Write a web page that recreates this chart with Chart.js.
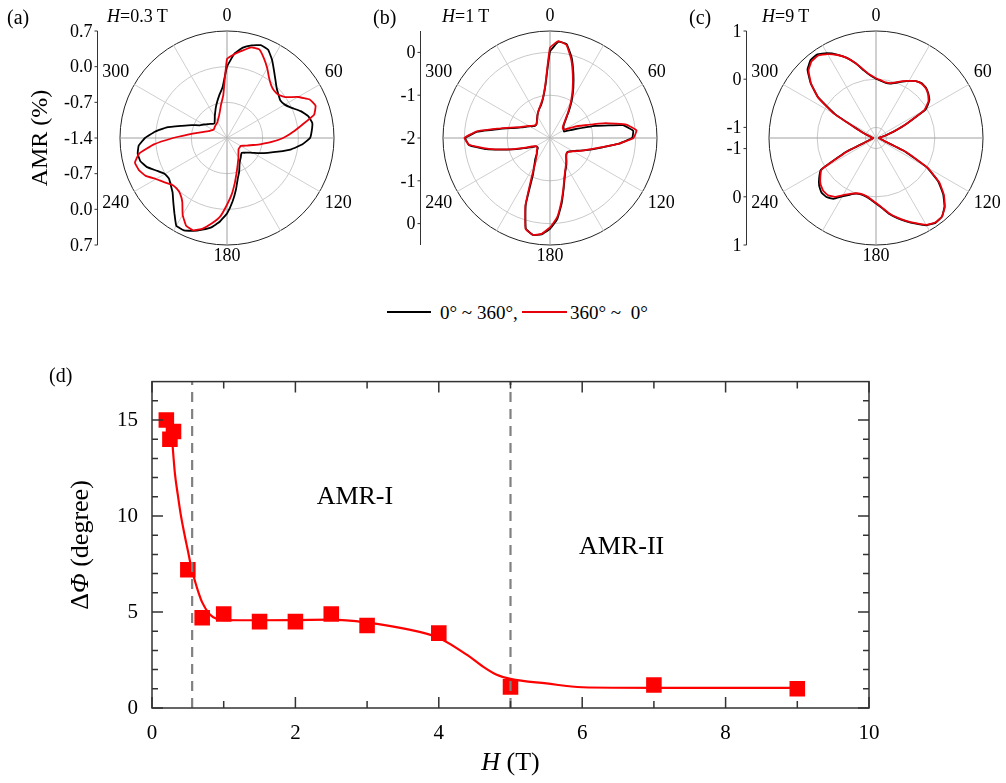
<!DOCTYPE html>
<html>
<head>
<meta charset="utf-8">
<script src="https://cdn.jsdelivr.net/npm/chart.js@4.4.1/dist/chart.umd.min.js"></script>
<style>
  html, body { margin: 0; padding: 0; background: #fff; }
  #wrap { position: relative; width: 1006px; height: 783px; overflow: hidden;
          font-family: "Liberation Serif", "Times New Roman", serif; color: #000; }
  canvas { position: absolute; }
  .lbl { position: absolute; white-space: nowrap; line-height: 1; }
  .swatch { position: absolute; height: 2px; }
</style>
</head>
<body>
<div id="wrap">
  <canvas id="polarA" width="375" height="280" style="left:0;top:0;width:375px;height:280px"></canvas>
  <canvas id="polarB" width="375" height="280" style="left:323px;top:0;width:375px;height:280px"></canvas>
  <canvas id="polarC" width="375" height="280" style="left:649px;top:0;width:375px;height:280px"></canvas>
  <canvas id="fieldChart" width="1006" height="428" style="left:0;top:355px;width:1006px;height:428px"></canvas>

  <div class="lbl" style="left:7px;top:7px;font-size:20px">(a)</div>
  <div class="lbl" style="left:373px;top:7px;font-size:20px">(b)</div>
  <div class="lbl" style="left:689px;top:7px;font-size:20px">(c)</div>
  <div class="lbl" style="left:107px;top:7px;font-size:18px"><i>H</i>=0.3 T</div>
  <div class="lbl" style="left:442px;top:7px;font-size:18px"><i>H</i>=1 T</div>
  <div class="lbl" style="left:762px;top:7px;font-size:18px"><i>H</i>=9 T</div>

  <div class="swatch" style="left:387px;top:311px;width:44px;background:#000"></div>
  <div class="lbl" style="left:440px;top:303px;font-size:19px">0° ~ 360°,</div>
  <div class="swatch" style="left:522px;top:311px;width:45px;background:#e8000b"></div>
  <div class="lbl" style="left:570px;top:303px;font-size:19px">360° ~&nbsp; 0°</div>

  <div class="lbl" style="left:49px;top:365px;font-size:20px">(d)</div>
</div>
<script>
const SERIF = '"Liberation Serif", "Times New Roman", serif';

// polar panels: field angle (deg) and AMR read every 5 degrees
const angles = [0, 5, 10, 15, 20, 25, 30, 35, 40, 45, 50, 55, 60, 65, 70, 75, 80, 85,
  90, 95, 100, 105, 110, 115, 120, 125, 130, 135, 140, 145, 150, 155, 160, 165, 170, 175,
  180, 185, 190, 195, 200, 205, 210, 215, 220, 225, 230, 235, 240, 245, 250, 255, 260, 265,
  270, 275, 280, 285, 290, 295, 300, 305, 310, 315, 320, 325, 330, 335, 340, 345, 350, 355];
const angleMarks = [0, 60, 120, 180, 240, 300];

// (a) H = 0.3 T
const amrA_up = [0.00, 0.26, 0.40, 0.48, 0.54, 0.51, 0.37, 0.21, 0.08, -0.02, -0.08, -0.12,
  -0.09, 0.00, 0.14, 0.25, 0.30, 0.27, 0.23, 0.08, -0.12, -0.36, -0.55, -0.70,
  -0.82, -0.90, -0.95, -0.99, -0.97, -0.93, -0.89, -0.82, -0.70, -0.58, -0.38, -0.15,
  0.08, 0.25, 0.38, 0.46, 0.54, 0.60, 0.59, 0.40, 0.24, 0.11, 0.04, -0.01,
  0.01, 0.12, 0.27, 0.36, 0.38, 0.34, 0.21, 0.02, -0.20, -0.48, -0.66, -0.81,
  -0.87, -0.93, -0.97, -1.01, -1.02, -0.98, -0.92, -0.85, -0.76, -0.66, -0.54, -0.40];
const amrA_down = [0.15, 0.25, 0.34, 0.44, 0.45, 0.32, 0.18, 0.04, -0.05, -0.09, -0.08, 0.00,
  0.21, 0.39, 0.45, 0.37, 0.10, -0.11, -0.30, -0.52, -0.72, -0.87, -0.97, -1.04,
  -1.09, -1.09, -1.09, -1.08, -1.05, -1.01, -0.95, -0.89, -0.80, -0.68, -0.51, -0.30,
  -0.09, 0.15, 0.30, 0.44, 0.53, 0.50, 0.34, 0.13, 0.03, 0.00, 0.02, 0.11,
  0.21, 0.36, 0.44, 0.47, 0.35, 0.04, -0.34, -0.63, -0.81, -0.93, -1.01, -1.05,
  -1.08, -1.09, -1.08, -1.07, -1.06, -1.05, -1.03, -0.99, -0.94, -0.86, -0.73, -0.56];

// (b) H = 1 T
const amrB_up = [0.02, 0.26, 0.23, -0.05, -0.40, -0.71, -0.98, -1.23, -1.42, -1.53, -1.59, -1.61,
  -1.63, -1.64, -1.42, -0.91, -0.27, -0.05, -0.08, -0.40, -0.75, -0.98, -1.16, -1.30,
  -1.39, -1.45, -1.48, -1.46, -1.41, -1.33, -1.24, -1.15, -1.00, -0.77, -0.44, -0.09,
  0.12, 0.26, 0.30, 0.19, -0.34, -1.06, -1.27, -1.40, -1.52, -1.57, -1.63, -1.64,
  -1.61, -1.48, -1.27, -0.95, -0.49, -0.10, -0.02, -0.30, -0.79, -1.10, -1.28, -1.38,
  -1.45, -1.52, -1.55, -1.55, -1.52, -1.47, -1.41, -1.34, -1.27, -1.20, -1.06, -0.77];
const amrB_down = [0.11, 0.27, 0.21, -0.09, -0.44, -0.75, -1.02, -1.26, -1.44, -1.55, -1.61, -1.63,
  -1.61, -1.38, -1.13, -0.66, -0.19, 0.03, -0.05, -0.40, -0.77, -1.00, -1.16, -1.28,
  -1.38, -1.44, -1.47, -1.46, -1.41, -1.34, -1.26, -1.16, -1.02, -0.79, -0.48, -0.13,
  0.09, 0.25, 0.30, 0.20, -0.32, -0.98, -1.30, -1.44, -1.52, -1.56, -1.61, -1.63,
  -1.62, -1.53, -1.31, -0.97, -0.55, -0.11, 0.00, -0.27, -0.75, -1.06, -1.26, -1.36,
  -1.44, -1.50, -1.54, -1.55, -1.52, -1.48, -1.41, -1.34, -1.27, -1.18, -1.05, -0.75];

// (c) H = 9 T
const amrC_up = [0.01, -0.03, -0.06, -0.05, 0.00, 0.07, 0.15, 0.22, 0.26, 0.25, 0.20, 0.13,
  -0.03, -0.51, -0.82, -1.01, -1.12, -1.15, -1.16, -1.15, -1.13, -1.10, -1.04, -0.55,
  0.00, 0.36, 0.60, 0.79, 0.91, 0.93, 0.87, 0.74, 0.62, 0.50, 0.38, 0.24,
  0.14, 0.06, 0.01, -0.01, 0.01, 0.08, 0.18, 0.32, 0.38, 0.38, 0.32, 0.22,
  0.10, -0.53, -1.05, -1.10, -1.14, -1.15, -1.16, -1.15, -1.12, -1.09, -0.98, -0.82,
  -0.26, 0.24, 0.55, 0.79, 0.89, 0.90, 0.81, 0.69, 0.55, 0.38, 0.20, 0.08];
const amrC_down = [0.02, -0.02, -0.05, -0.04, 0.01, 0.08, 0.15, 0.22, 0.25, 0.24, 0.19, 0.11,
  -0.06, -0.52, -0.83, -1.02, -1.12, -1.15, -1.16, -1.15, -1.13, -1.10, -1.03, -0.52,
  0.02, 0.38, 0.62, 0.80, 0.91, 0.92, 0.86, 0.73, 0.61, 0.49, 0.37, 0.23,
  0.13, 0.05, 0.00, -0.02, 0.00, 0.06, 0.15, 0.27, 0.33, 0.33, 0.28, 0.19,
  0.08, -0.55, -1.05, -1.10, -1.14, -1.15, -1.16, -1.15, -1.12, -1.09, -0.98, -0.80,
  -0.22, 0.25, 0.54, 0.76, 0.86, 0.87, 0.79, 0.68, 0.55, 0.38, 0.21, 0.09];

// radial grid circles and left-axis tick labels
const gridA = [-0.7, 0, 0.7], axisA = [0.7, 0, -0.7, -1.4];
const gridB = [-1, 0, 0.5],   axisB = [0, -1, -2];
const gridC = [-1, 0, 1],     axisC = [1, 0, -1];

// (d) phase shift vs field
const fieldH   = [0.2, 0.25, 0.3, 0.5, 0.7, 1.0, 1.5, 2.0, 2.5, 3.0, 4.0, 5.0, 7.0, 9.0];
const deltaPhi = [15.0, 14.0, 14.4, 7.2, 4.7, 4.9, 4.5, 4.5, 4.9, 4.3, 3.9, 1.1, 1.2, 1.0];
const fitH   = [0.28, 0.32, 0.36, 0.40, 0.45, 0.50, 0.55, 0.60, 0.65, 0.70, 0.80, 0.90, 1.0, 1.5,
  2.0, 2.5, 3.0, 3.5, 4.0, 4.4, 4.6, 4.8, 5.0, 5.5, 6.0, 7.0, 8.0, 9.0];
const fitPhi = [14.0, 12.2, 11.1, 10.1, 9.1, 8.2, 7.3, 6.6, 6.0, 5.5, 4.9, 4.65, 4.58, 4.57,
  4.58, 4.6, 4.45, 4.15, 3.65, 2.75, 2.2, 1.75, 1.52, 1.28, 1.08, 1.05, 1.05, 1.05];
const boundaries = [0.56, 5.0];
const xTicks = [0, 2, 4, 6, 8, 10], xMinor = [1, 3, 5, 7, 9];
const yTicks = [0, 5, 10, 15], yMinor = [1, 2, 3, 4, 6, 7, 8, 9, 11, 12, 13, 14, 16];

Chart.defaults.font.family = SERIF;
Chart.defaults.color = '#000';

// left value axis, angle labels and y title around each polar plot
const polarFrame = {
  id: 'polarFrame',
  afterDraw(chart, args, opts) {
    const s = chart.scales.r;
    const ctx = chart.ctx;
    const R = s.drawingArea;
    const ax = Math.round(s.xCenter - 130) + 0.5;
    ctx.save();
    ctx.strokeStyle = '#333';
    ctx.lineWidth = 1;
    ctx.beginPath();
    ctx.moveTo(ax, s.yCenter - R);
    ctx.lineTo(ax, s.yCenter + R);
    ctx.stroke();
    ctx.fillStyle = '#000';
    ctx.font = '18px ' + SERIF;
    ctx.textAlign = 'right';
    ctx.textBaseline = 'middle';
    opts.axisTicks.forEach(v => {
      const d = s.getDistanceFromCenterForValue(v);
      const ys = d < 0.5 ? [s.yCenter] : [s.yCenter - d, s.yCenter + d];
      ys.forEach(y => {
        ctx.beginPath();
        ctx.moveTo(ax - 3, y);
        ctx.lineTo(ax, y);
        ctx.stroke();
        ctx.fillText(v.toFixed(opts.digits), ax - 5, y + 1);
      });
    });
    angleMarks.forEach(a => {
      const p = s.getPointPosition(angles.indexOf(a), R + (a === 180 ? 2 : 6));
      ctx.textAlign = (a === 0 || a === 180) ? 'center' : (a < 180 ? 'left' : 'right');
      ctx.textBaseline = (a < 90 || a > 270) ? 'bottom' : 'top';
      ctx.fillText(String(a), p.x, p.y);
    });
    if (opts.title) {
      ctx.translate(41, s.yCenter);
      ctx.rotate(-Math.PI / 2);
      ctx.textAlign = 'center';
      ctx.textBaseline = 'middle';
      ctx.font = '24px ' + SERIF;
      ctx.fillText(opts.title, 0, 0);
    }
    ctx.restore();
  }
};

function initializePolar(id, upData, downData, rMin, rMax, gridTicks, axisTicks, digits, title) {
  return new Chart(document.getElementById(id), {
    type: 'radar',
    data: {
      labels: angles,
      datasets: [
        { label: '360° ~ 0°', data: downData, borderColor: '#e8000b', borderWidth: 1.8 },
        { label: '0° ~ 360°', data: upData, borderColor: '#000', borderWidth: 1.8 }
      ]
    },
    options: {
      responsive: false,
      animation: false,
      events: [],
      layout: { padding: { left: 120, top: 31, right: 41, bottom: 35 } },
      elements: {
        point: { radius: 0 },
        line: { tension: 0.1, fill: false, borderJoinStyle: 'round' }
      },
      plugins: {
        legend: { display: false },
        tooltip: { enabled: false },
        polarFrame: { axisTicks: axisTicks, digits: digits, title: title }
      },
      scales: {
        r: {
          min: rMin,
          max: rMax,
          afterBuildTicks: s => { s.ticks = gridTicks.map(v => ({ value: v })); },
          ticks: { display: false },
          pointLabels: { display: false },
          grid: {
            circular: true,
            lineWidth: 1,
            color: c => c.index === gridTicks.length - 1 ? '#222' : '#c8c8c8'
          },
          angleLines: {
            lineWidth: 1,
            color: c => {
              const a = angles[c.index];
              if (a % 90 === 0) return '#a0a0a0';
              if (a % 30 === 0) return '#cfcfcf';
              return 'rgba(0,0,0,0)';
            }
          }
        }
      }
    },
    plugins: [polarFrame]
  });
}

var polarA = initializePolar('polarA', amrA_up, amrA_down, -1.4, 0.7, gridA, axisA, 1, 'AMR (%)');
var polarB = initializePolar('polarB', amrB_up, amrB_down, -2, 0.5, gridB, axisB, 0, null);
var polarC = initializePolar('polarC', amrC_up, amrC_down, -1.22, 1, gridC, axisC, 0, null);

function drawRuns(ctx, runs, size) {
  let total = 0;
  runs.forEach(r => {
    ctx.font = (r[1] ? 'italic ' : '') + size + 'px ' + SERIF;
    total += ctx.measureText(r[0]).width;
  });
  let x = -total / 2;
  runs.forEach(r => {
    ctx.font = (r[1] ? 'italic ' : '') + size + 'px ' + SERIF;
    ctx.fillText(r[0], x, 0);
    x += ctx.measureText(r[0]).width;
  });
}

// box frame, inward ticks, region names and axis titles for (d)
const fieldFrame = {
  id: 'fieldFrame',
  afterDraw(chart) {
    const { ctx, chartArea: ca } = chart;
    const x = chart.scales.x, y = chart.scales.y;
    ctx.save();
    ctx.strokeStyle = '#333';
    ctx.lineWidth = 1.5;
    ctx.strokeRect(ca.left, ca.top, ca.right - ca.left, ca.bottom - ca.top);
    ctx.beginPath();
    const vTick = (v, len) => {
      const p = x.getPixelForValue(v);
      ctx.moveTo(p, ca.bottom); ctx.lineTo(p, ca.bottom - len);
      ctx.moveTo(p, ca.top); ctx.lineTo(p, ca.top + len);
    };
    const hTick = (v, len) => {
      const p = y.getPixelForValue(v);
      ctx.moveTo(ca.left, p); ctx.lineTo(ca.left + len, p);
      ctx.moveTo(ca.right, p); ctx.lineTo(ca.right - len, p);
    };
    xTicks.forEach(v => vTick(v, 11));
    xMinor.forEach(v => vTick(v, 7));
    yTicks.forEach(v => hTick(v, 11));
    yMinor.forEach(v => hTick(v, 6));
    ctx.stroke();

    ctx.fillStyle = '#000';
    ctx.textBaseline = 'middle';
    ctx.font = '26px ' + SERIF;
    ctx.textAlign = 'center';
    ctx.fillText('AMR-I', x.getPixelForValue(2.83), y.getPixelForValue(11.0));
    ctx.fillText('AMR-II', x.getPixelForValue(6.55), y.getPixelForValue(8.4));

    ctx.textAlign = 'left';
    ctx.save();
    ctx.translate((ca.left + ca.right) / 2, ca.bottom + 55);
    drawRuns(ctx, [['H', true], [' (T)', false]], 26);
    ctx.restore();
    ctx.save();
    ctx.translate(81, 190);
    ctx.rotate(-Math.PI / 2);
    drawRuns(ctx, [['Δ', false], ['Φ', true], [' (degree)', false]], 26);
    ctx.restore();
    ctx.restore();
  }
};

var fieldChart = new Chart(document.getElementById('fieldChart'), {
  type: 'scatter',
  data: {
    datasets: [
      {
        data: [{ x: boundaries[0], y: 0 }, { x: boundaries[0], y: 17 }],
        showLine: true, borderColor: '#808080', borderWidth: 2.2, borderDash: [10, 7], pointRadius: 0
      },
      {
        data: [{ x: boundaries[1], y: 0 }, { x: boundaries[1], y: 17 }],
        showLine: true, borderColor: '#808080', borderWidth: 2.2, borderDash: [10, 7], pointRadius: 0
      },
      {
        data: fieldH.map((h, i) => ({ x: h, y: deltaPhi[i] })),
        pointStyle: 'rect', pointRadius: 11, backgroundColor: '#ff0000', borderWidth: 0
      },
      {
        data: fitH.map((h, i) => ({ x: h, y: fitPhi[i] })),
        showLine: true, borderColor: '#ff0000', borderWidth: 2.2, pointRadius: 0,
        cubicInterpolationMode: 'monotone'
      }
    ]
  },
  options: {
    responsive: false,
    animation: false,
    events: [],
    layout: { padding: { left: 0, top: 12, right: 137, bottom: 0 } },
    plugins: { legend: { display: false }, tooltip: { enabled: false } },
    scales: {
      x: {
        type: 'linear', min: 0, max: 10,
        afterBuildTicks: s => { s.ticks = xTicks.map(v => ({ value: v })); },
        afterFit: s => { s.height = 75; },
        ticks: { font: { size: 21 }, padding: 13, maxRotation: 0 },
        grid: { display: false, drawTicks: false },
        border: { display: false }
      },
      y: {
        type: 'linear', min: 0, max: 17,
        afterBuildTicks: s => { s.ticks = yTicks.map(v => ({ value: v })); },
        afterFit: s => { s.width = 152; },
        ticks: { font: { size: 21 }, padding: 14 },
        grid: { display: false, drawTicks: false },
        border: { display: false }
      }
    }
  },
  plugins: [fieldFrame]
});
</script>
</body>
</html>
